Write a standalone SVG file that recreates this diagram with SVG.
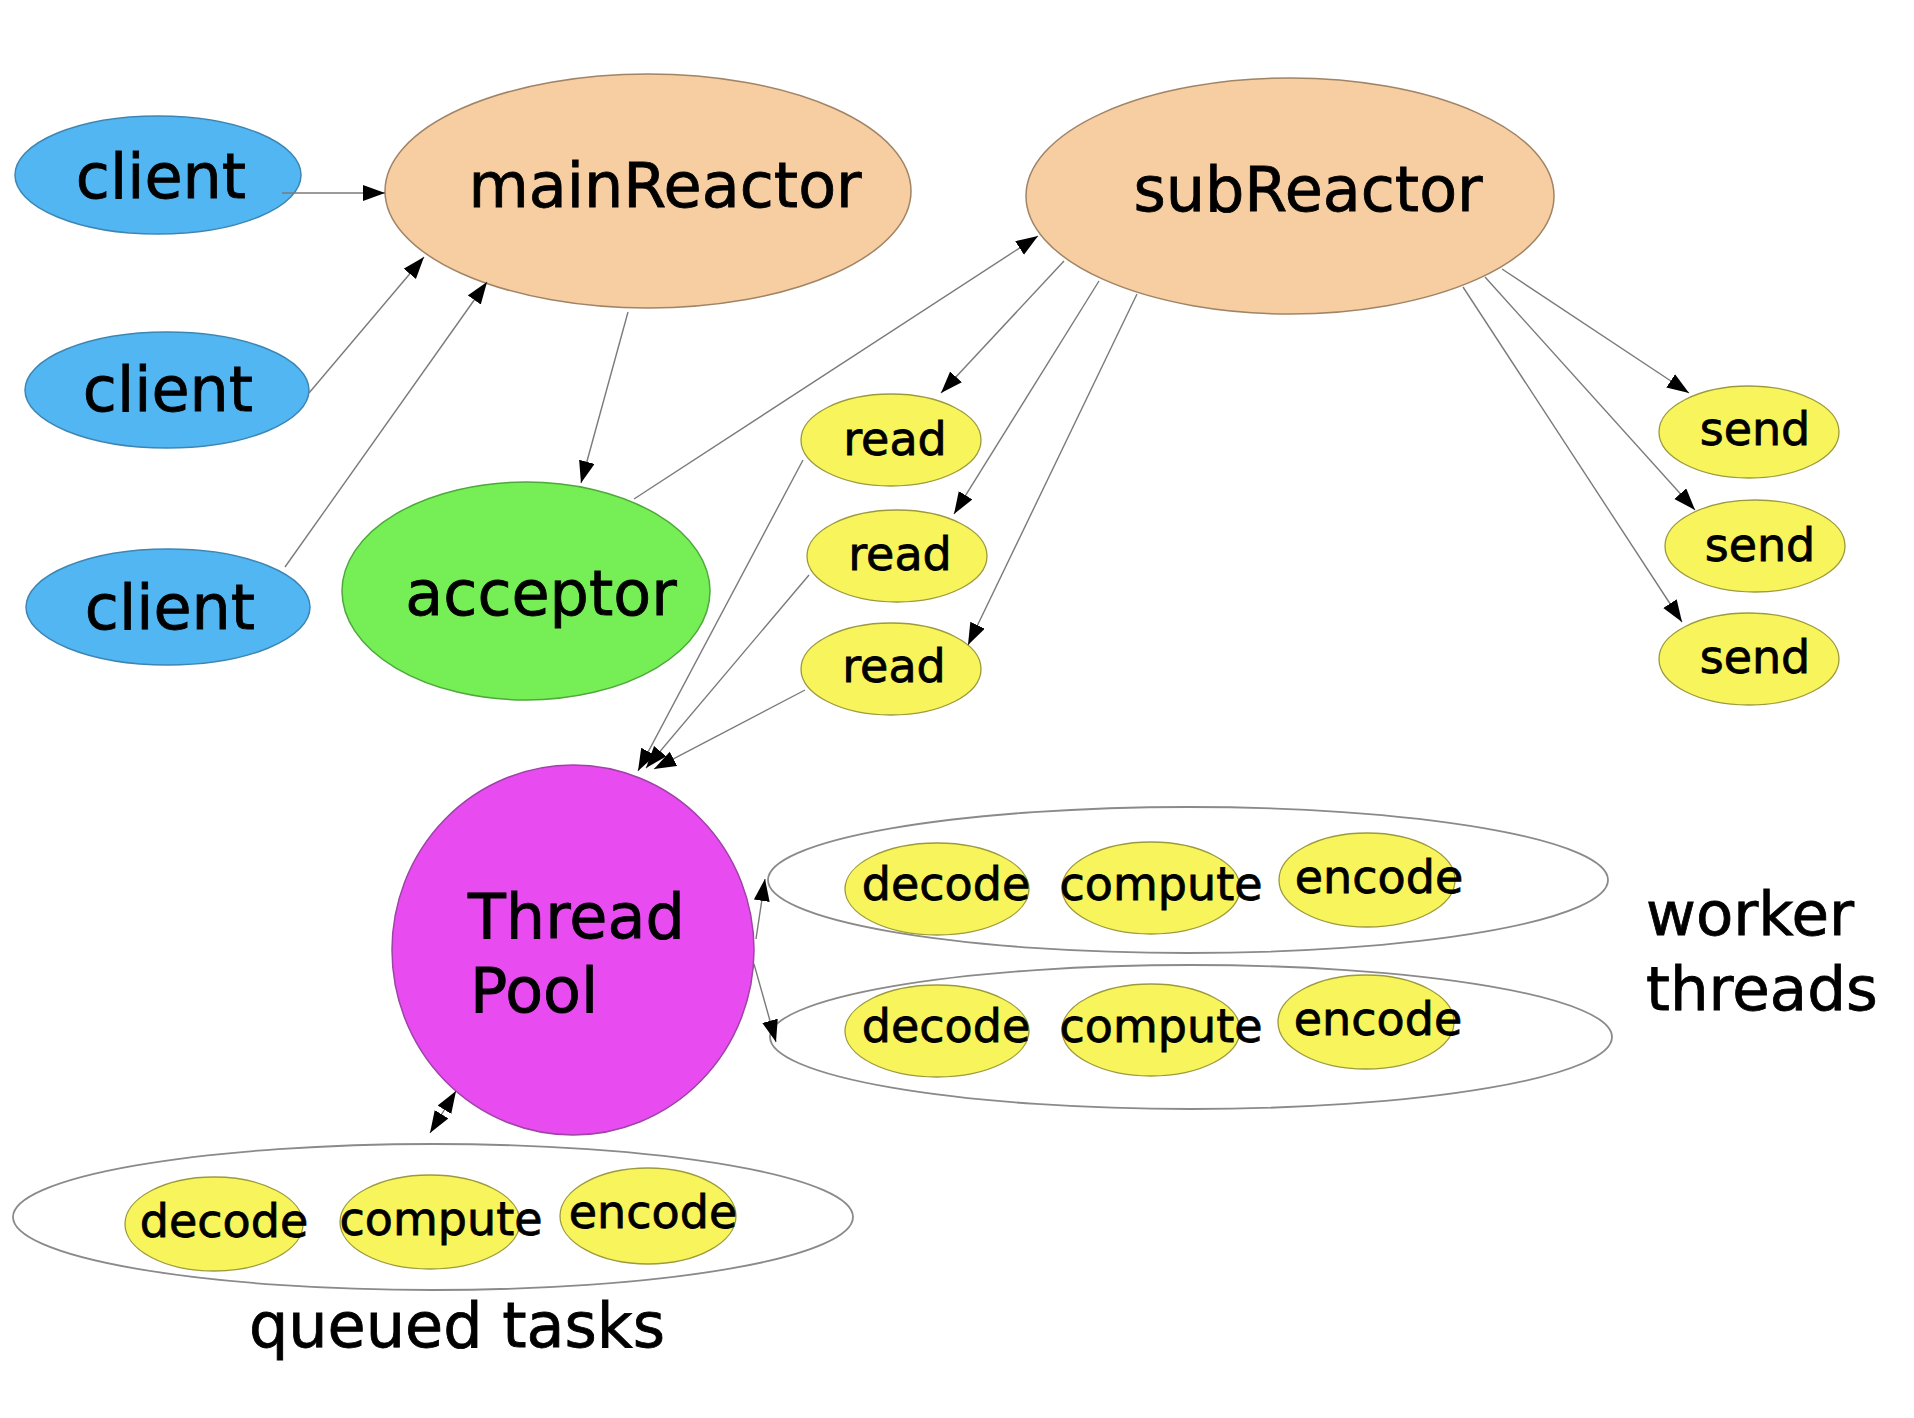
<svg xmlns="http://www.w3.org/2000/svg" width="1914" height="1418" viewBox="0 0 1914 1418">
<style>
text{font-family:"DejaVu Sans","Liberation Sans",sans-serif;fill:#000;stroke:#000;stroke-width:0.8}
.big{font-size:62px}
.sm{font-size:46px}
.mid{text-anchor:middle}
.client{fill:#52b6f2;stroke:#3d86b3;stroke-width:1.5}
.reactor{fill:#f7cda2;stroke:#a08466;stroke-width:1.5}
.acc{fill:#76ee55;stroke:#4ea83c;stroke-width:1.5}
.yel{fill:#f8f55c;stroke:#9c9a3c;stroke-width:1.3}
.pool{fill:#e84cf0;stroke:#9d44a6;stroke-width:1.5}
.grp{fill:#fff;stroke:#8a8a8a;stroke-width:1.8}
.edge{stroke:#7a7a7a;stroke-width:1.4;fill:none;marker-end:url(#ah)}
</style>
<defs>
<marker id="ah" markerUnits="userSpaceOnUse" markerWidth="24" markerHeight="18" refX="22" refY="8" orient="auto-start-reverse">
<path d="M0,0 L22,8 L0,16 z" fill="#000"/>
</marker>
</defs>
<rect width="1914" height="1418" fill="#fff"/>

<g id="client1"><ellipse class="client" cx="158" cy="175" rx="143" ry="59"/><text class="big mid" x="161" y="198">client</text></g>
<g id="client2"><ellipse class="client" cx="167" cy="390" rx="142" ry="58"/><text class="big mid" x="168" y="411">client</text></g>
<g id="client3"><ellipse class="client" cx="168" cy="607" rx="142" ry="58"/><text class="big mid" x="170" y="629">client</text></g>
<g id="mainReactor"><ellipse class="reactor" cx="648" cy="191" rx="263" ry="117"/><text class="big mid" x="665" y="207">mainReactor</text></g>
<g id="subReactor"><ellipse class="reactor" cx="1290" cy="196" rx="264" ry="118"/><text class="big mid" x="1308" y="211">subReactor</text></g>
<g id="acceptor"><ellipse class="acc" cx="526" cy="591" rx="184" ry="109"/><text class="big mid" x="541" y="615">acceptor</text></g>
<g id="read1"><ellipse class="yel" cx="891" cy="440" rx="90" ry="46"/><text class="sm mid" x="895" y="455">read</text></g>
<g id="read2"><ellipse class="yel" cx="897" cy="556" rx="90" ry="46"/><text class="sm mid" x="900" y="570">read</text></g>
<g id="read3"><ellipse class="yel" cx="891" cy="669" rx="90" ry="46"/><text class="sm mid" x="894" y="682">read</text></g>
<g id="send1"><ellipse class="yel" cx="1749" cy="432" rx="90" ry="46"/><text class="sm mid" x="1755" y="445">send</text></g>
<g id="send2"><ellipse class="yel" cx="1755" cy="546" rx="90" ry="46"/><text class="sm mid" x="1760" y="561">send</text></g>
<g id="send3"><ellipse class="yel" cx="1749" cy="659" rx="90" ry="46"/><text class="sm mid" x="1755" y="673">send</text></g>
<g id="threadPool"><ellipse class="pool" cx="573" cy="950" rx="181" ry="185"/><text class="big" x="468" y="938">Thread</text><text class="big" x="470" y="1012">Pool</text></g>

<g id="worker1">
<ellipse class="grp" cx="1188" cy="880" rx="420" ry="73"/>
<ellipse class="yel" cx="937" cy="889" rx="92" ry="46"/>
<ellipse class="yel" cx="1151" cy="888" rx="89" ry="46"/>
<ellipse class="yel" cx="1367" cy="880" rx="88" ry="47"/>
<text class="sm mid" x="946" y="900">decode</text>
<text class="sm mid" x="1161" y="900">compute</text>
<text class="sm mid" x="1379" y="893">encode</text>
</g>
<g id="worker2">
<ellipse class="grp" cx="1191" cy="1037" rx="421" ry="72"/>
<ellipse class="yel" cx="937" cy="1031" rx="92" ry="46"/>
<ellipse class="yel" cx="1151" cy="1030" rx="89" ry="46"/>
<ellipse class="yel" cx="1366" cy="1022" rx="88" ry="47"/>
<text class="sm mid" x="946" y="1042">decode</text>
<text class="sm mid" x="1161" y="1042">compute</text>
<text class="sm mid" x="1378" y="1035">encode</text>
</g>
<g id="queued">
<ellipse class="grp" cx="433" cy="1217" rx="420" ry="73"/>
<ellipse class="yel" cx="214" cy="1224" rx="89" ry="47"/>
<ellipse class="yel" cx="430" cy="1222" rx="90" ry="47"/>
<ellipse class="yel" cx="648" cy="1216" rx="88" ry="48"/>
<text class="sm mid" x="224" y="1237">decode</text>
<text class="sm mid" x="441" y="1235">compute</text>
<text class="sm mid" x="653" y="1228">encode</text>
</g>
<g id="labels">
<text class="big" x="1646" y="935" style="font-size:61px">worker</text>
<text class="big" x="1646" y="1010" style="font-size:61px">threads</text>
<text class="big mid" x="457" y="1347">queued tasks</text>
</g>

<g id="connectors">
<line class="edge" x1="282" y1="193" x2="385" y2="193"/>
<line class="edge" x1="309" y1="393" x2="424" y2="257"/>
<line class="edge" x1="285" y1="567" x2="487" y2="282"/>
<line class="edge" x1="628" y1="312" x2="581" y2="483"/>
<line class="edge" x1="634" y1="499" x2="1038" y2="236"/>
<line class="edge" x1="1064" y1="261" x2="941" y2="393"/>
<line class="edge" x1="1099" y1="281" x2="954" y2="514"/>
<line class="edge" x1="1137" y1="294" x2="968" y2="645"/>
<line class="edge" x1="1502" y1="269" x2="1689" y2="393"/>
<line class="edge" x1="1485" y1="277" x2="1695" y2="510"/>
<line class="edge" x1="1463" y1="287" x2="1682" y2="622"/>
<line class="edge" x1="803" y1="460" x2="638" y2="771"/>
<line class="edge" x1="809" y1="575" x2="646" y2="768"/>
<line class="edge" x1="805" y1="690" x2="654" y2="769"/>
<line class="edge" x1="756" y1="939" x2="765" y2="879"/>
<line class="edge" x1="754" y1="964" x2="776" y2="1042"/>
<line class="edge" x1="430" y1="1133" x2="456" y2="1091" style="marker-start:url(#ah)"/>
</g>
</svg>
